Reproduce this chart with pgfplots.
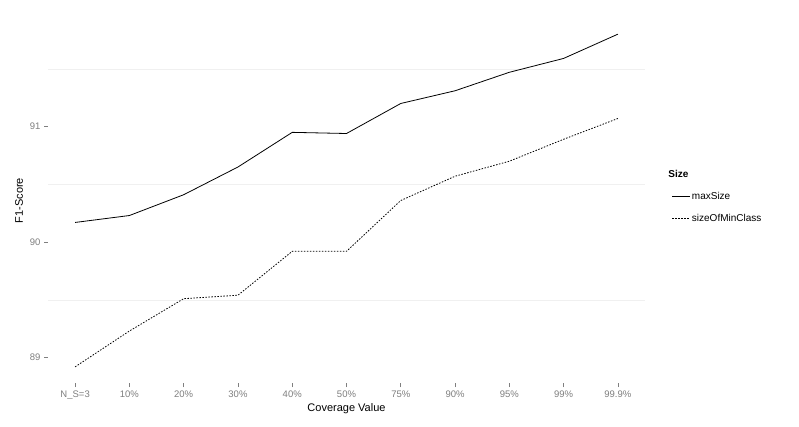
\documentclass[border=0pt]{standalone}
\usepackage{pgfplots}
\pgfplotsset{compat=1.18}
\usepackage{fontspec}
\setmainfont{Liberation Sans}
\definecolor{tickgray}{HTML}{7F7F7F}
\definecolor{gridgray}{HTML}{F0F0F0}
\begin{document}
\begin{tikzpicture}[x=1pt,y=1pt]
\useasboundingbox[fill=white] (0,0) rectangle (799,426);
\begin{axis}[
  at={(48pt,43pt)}, anchor=south west,
  width=597pt, height=365pt, scale only axis,
  xmin=-0.5, xmax=10.5, ymin=88.78, ymax=91.94,
  xtick={0,...,10},
  xticklabels={N\_S=3,10\%,20\%,30\%,40\%,50\%,75\%,90\%,95\%,99\%,99.9\%},
  ytick={89,90,91},
  minor ytick={89.5,90.5,91.5},
  yminorgrids=true,
  minor grid style={gridgray, line width=0.6pt},
  minor tick length=0pt,
  axis line style={draw=none},
  tick align=outside, tick pos=left,
  major tick length=4pt,
  tick style={tickgray, line width=0.6pt},
  ticklabel style={font=\fontsize{9.5}{10}\selectfont, text=tickgray},
  /pgf/number format/assume math mode=true,
  xlabel={Coverage Value}, ylabel={F1-Score},
  label style={font=\fontsize{11}{12}\selectfont},
  xlabel style={yshift=2pt},
  ylabel style={yshift=0pt},
  legend style={at={(1.04,0.51)}, anchor=west, draw=none, fill=none,
    font=\fontsize{10}{11}\selectfont, row sep=9pt},
  legend cell align=left,
]
\addlegendimage{empty legend}
\addlegendentry{\hspace{-24pt}\textbf{Size}}
\addplot[black, line width=0.8pt] coordinates {
(0,90.17) (1,90.23) (2,90.41) (3,90.65) (4,90.95) (5,90.94) (6,91.20) (7,91.31) (8,91.47) (9,91.59) (10,91.80)};
\addlegendentry{maxSize}
\addplot[black, line width=0.8pt, dash pattern=on 1.5pt off 1.5pt] coordinates {
(0,88.92) (1,89.23) (2,89.51) (3,89.54) (4,89.92) (5,89.92) (6,90.36) (7,90.57) (8,90.70) (9,90.89) (10,91.07)};
\addlegendentry{sizeOfMinClass}
\end{axis}
\end{tikzpicture}
\end{document}
